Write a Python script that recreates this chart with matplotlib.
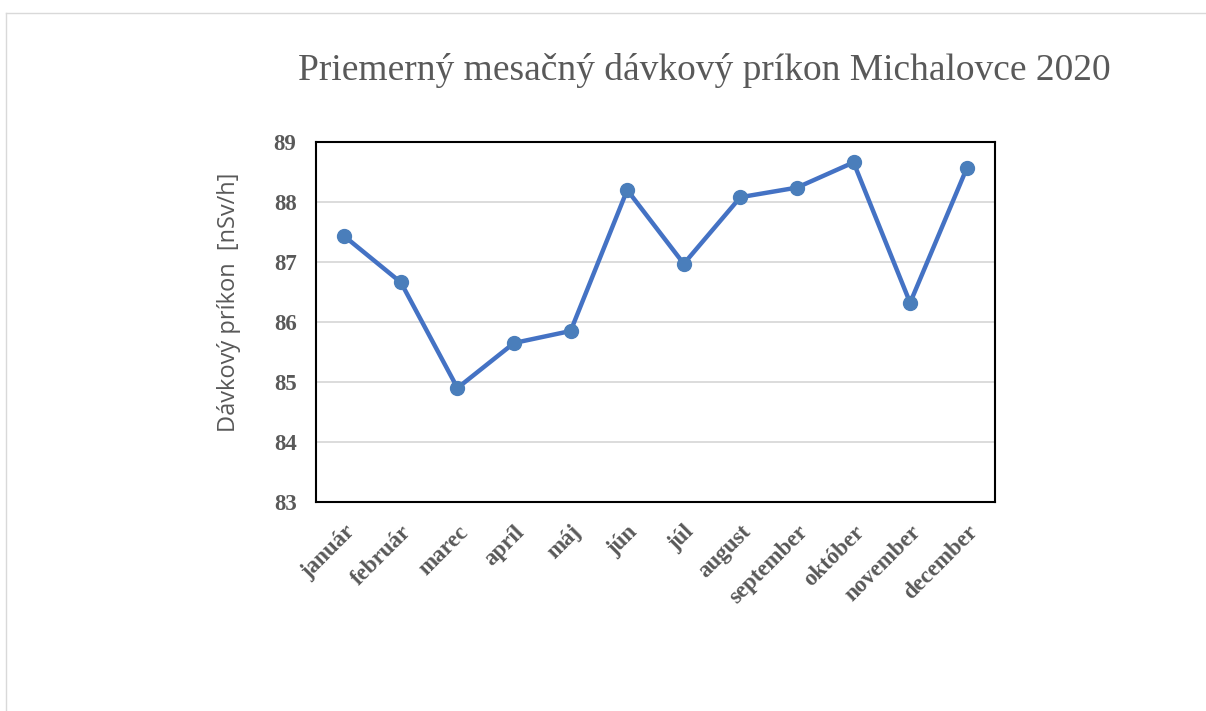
import matplotlib
matplotlib.use("Agg")
import matplotlib.pyplot as plt
from matplotlib.lines import Line2D

# Monthly mean dose rate, Michalovce 2020
months = ["január", "február", "marec", "apríl", "máj", "jún", "júl",
          "august", "september", "október", "november", "december"]
dose_rate = [87.43, 86.66, 84.90, 85.65, 85.85, 88.20, 86.97,
             88.08, 88.24, 88.66, 86.32, 88.56]
y_ticks = [83, 84, 85, 86, 87, 88, 89]

W, H = 1206, 711
fig = plt.figure(figsize=(W / 100, H / 100), dpi=100)
ax = fig.add_axes([316 / W, 1 - 502 / H, (995 - 316) / W, (502 - 142) / H])

gray = "#595959"
x = list(range(len(months)))
ax.plot(x, dose_rate, color="#4472C4", linewidth=3.2, zorder=3)
ax.plot(x, dose_rate, linestyle="none", marker="o", markersize=10,
        color="#4A7EBB", zorder=4)

ax.set_xlim(-0.5, len(months) - 0.5)
ax.set_ylim(83, 89)
ax.set_yticks(y_ticks)
ax.set_yticklabels([str(t) for t in y_ticks], family="Liberation Serif",
                   fontweight="bold", fontsize=16.5, color=gray)
ax.set_xticks(x)
ax.set_xticklabels(months, family="Liberation Serif", fontweight="bold",
                   fontsize=16.5, color=gray, rotation=45, ha="right",
                   rotation_mode="anchor")
ax.tick_params(axis="both", length=0)
ax.tick_params(axis="y", pad=14)
ax.tick_params(axis="x", pad=14)

ax.grid(axis="y", color="#D9D9D9", linewidth=1.3, zorder=0)
for s in ax.spines.values():
    s.set_color("black")
    s.set_linewidth(1.5)

# axis title sits a bit above the axes centre
fig.text(229 / W, 1 - 302 / H, "Dávkový príkon  [nSv/h]", family="Open Sans",
         fontsize=17, color=gray, rotation=90, ha="center", va="center")

fig.text(704 / W, 1 - 70 / H, "Priemerný mesačný dávkový príkon Michalovce 2020",
         family="Liberation Serif", fontsize=27, color=gray,
         ha="center", va="center")

# light outer frame of the chart area
fig.add_artist(Line2D([5.5 / W, 5.5 / W], [0, 1 - 13 / H],
                      transform=fig.transFigure, color="#D9D9D9", linewidth=1))
fig.add_artist(Line2D([5.5 / W, 1], [1 - 13 / H, 1 - 13 / H],
                      transform=fig.transFigure, color="#D9D9D9", linewidth=1))

fig.savefig("out.png", dpi=100)
